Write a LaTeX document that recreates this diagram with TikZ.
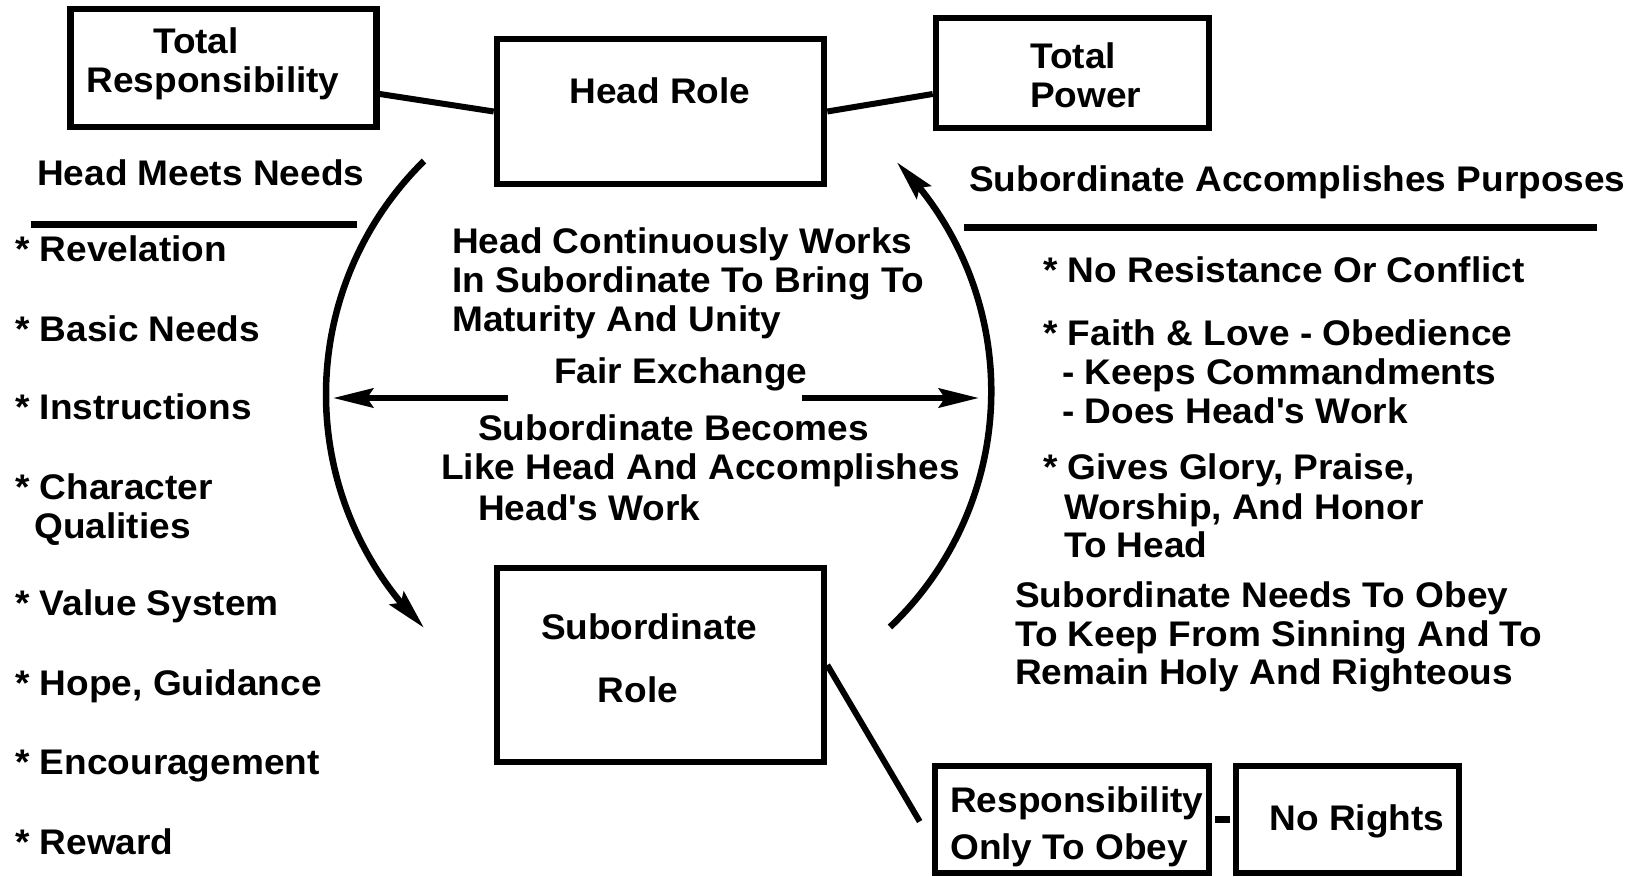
\documentclass[tikz,border=0pt]{standalone}
\usepackage{fontspec}
\newfontfamily\dfont{Liberation Sans}[FakeStretch=1.04]
\usetikzlibrary{arrows.meta,bending}
\begin{document}
\begin{tikzpicture}[x=1pt,y=1pt,
  box/.style={draw,line width=6.6pt,inner sep=0pt},
  txt/.style={inner sep=0pt,font=\dfont\bfseries\fontsize{35.6}{42}\selectfont},
  lw/.style={txt,anchor=base west},
  lc/.style={txt,anchor=base},
  link/.style={line width=6pt},
  rulel/.style={line width=7pt},
  arcl/.style={line width=6.5pt,-{Stealth[length=40pt,width=19pt,inset=6pt]}},
  harrow/.style={line width=6.5pt,-{Stealth[length=40pt,width=19pt,inset=6pt]}},
]
\path[use as bounding box,fill=white] (0,0) rectangle (1647,-876);

% boxes
\node[box,minimum width=306pt,minimum height=118pt] (tr) at (223.5,-68) {};
\node[box,minimum width=327pt,minimum height=145pt] (hr) at (660.5,-111.5) {};
\node[box,minimum width=273pt,minimum height=110pt] (tp) at (1072.5,-73) {};
\node[box,minimum width=327pt,minimum height=194pt] (sr) at (660.5,-665) {};
\node[box,minimum width=274pt,minimum height=107pt] (ro) at (1072,-819.5) {};
\node[box,minimum width=223pt,minimum height=107pt] (nr) at (1347.5,-819.5) {};

% box texts
\node[lc] (trt1) at (196,-53) {Total};
\node[lc] (trt2) at (213,-92) {Responsibility};
\node[lc] (hrt) at (660,-103) {Head Role};
\node[lw] (tpt1) at (1030,-68) {Total};
\node[lw] (tpt2) at (1030,-107) {Power};
\node[lc] (srt1) at (649,-639) {Subordinate};
\node[lc] (srt2) at (638,-702) {Role};
\node[lw] (rot1) at (950,-812) {Responsibility};
\node[lw] (rot2) at (950,-859) {Only To Obey};
\node[lc] (nrt) at (1357,-830) {No Rights};

% connectors between boxes
\draw[link] ([yshift=-26pt]tr.east) -- (hr.west);
\draw[link] (hr.east) -- ([yshift=-21pt]tp.west);
\draw[link] (sr.east) -- ([xshift=-12pt,yshift=-2pt]ro.west);
\draw[line width=7pt,shorten <=3pt,shorten >=3pt] (ro.east) -- (nr.west);

% left column
\node[lw] (hmn) at (37,-185) {Head Meets Needs};
\coordinate (lrl) at (31,-224);
\coordinate (lrr) at (357,-224);
\draw[rulel] (lrl) -- (lrr);
\node[lw] (l1) at (15,-261) {* Revelation};
\node[lw] (l2) at (15,-341) {* Basic Needs};
\node[lw] (l3) at (15,-419) {* Instructions};
\node[lw] (l4) at (15,-499) {* Character};
\node[lw] (l4b) at (34,-538) {Qualities};
\node[lw] (l5) at (15,-615) {* Value System};
\node[lw] (l6) at (15,-695) {* Hope, Guidance};
\node[lw] (l7) at (15,-774) {* Encouragement};
\node[lw] (l8) at (15,-854) {* Reward};

% centre texts
\node[lw] (c1) at (452,-253.5) {Head Continuously Works};
\node[lw] (c2) at (452,-292) {In Subordinate To Bring To};
\node[lw] (c3) at (452,-331.5) {Maturity And Unity};
\node[lw] (fe) at (554,-383) {Fair Exchange};
\node[lw] (c4) at (478,-440) {Subordinate Becomes};
\node[lw] (c5) at (441,-479.5) {Like Head And Accomplishes};
\node[lw] (c6) at (478,-520.5) {Head's Work};

% fair exchange arrows
\coordinate (fel) at (508,-398);
\coordinate (feltip) at (333,-398);
\coordinate (fer) at (802,-398);
\coordinate (fertip) at (979,-398);
\draw[harrow] (fel) -- (feltip);
\draw[harrow] (fer) -- (fertip);

% arcs
\coordinate (lat) at (424,-161);
\draw[arcl] (lat) arc[start angle=134.45,end angle=225.55,radius=327];
\coordinate (rab) at (890,-627);
\draw[arcl] (rab) arc[start angle=-46.5,end angle=44.8,radius=325];

% right column
\node[lw] (sap) at (969,-191) {Subordinate Accomplishes Purposes};
\coordinate (rrl) at (964,-227);
\coordinate (rrr) at (1597,-227);
\draw[rulel] (rrl) -- (rrr);
\node[lw] (r1) at (1043,-282) {* No Resistance Or Conflict};
\node[lw] (r2) at (1043,-345.5) {* Faith \& Love - Obedience};
\node[lw] (r3) at (1062,-384) {- Keeps Commandments};
\node[lw] (r4) at (1062,-423.5) {- Does Head's Work};
\node[lw] (r5) at (1043,-479) {* Gives Glory, Praise,};
\node[lw] (r6) at (1064,-519) {Worship, And Honor};
\node[lw] (r7) at (1064,-557) {To Head};
\node[lw] (s1) at (1015,-607) {Subordinate Needs To Obey};
\node[lw] (s2) at (1015,-646) {To Keep From Sinning And To};
\node[lw] (s3) at (1015,-684) {Remain Holy And Righteous};
\end{tikzpicture}
\end{document}
